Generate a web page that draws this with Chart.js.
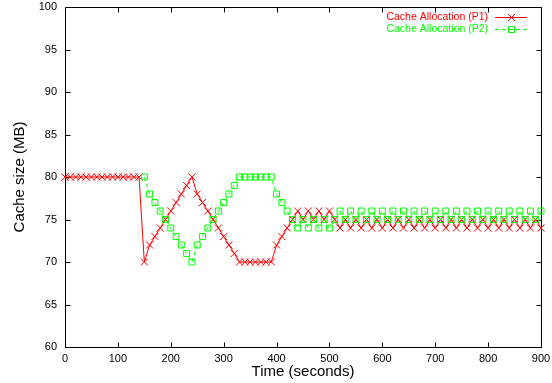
<!DOCTYPE html>
<html>
<head>
<meta charset="utf-8">
<script src="https://cdn.jsdelivr.net/npm/chart.js@4/dist/chart.umd.min.js"></script>
<style>
html,body{margin:0;padding:0;background:#fff;}
#wrap{width:552px;height:383px;position:relative;}
</style>
</head>
<body>
<div id="wrap"><canvas id="c"></canvas></div>
<script>
const times = [0,10,20,30,40,50,60,70,80,90,100,110,120,130,140,150,160,170,180,190,200,210,220,230,240,250,260,270,280,290,300,310,320,330,340,350,360,370,380,390,400,410,420,430,440,450,460,470,480,490,500,510,520,530,540,550,560,570,580,590,600,610,620,630,640,650,660,670,680,690,700,710,720,730,740,750,760,770,780,790,800,810,820,830,840,850,860,870,880,890,900];
const p1 = [80,80,80,80,80,80,80,80,80,80,80,80,80,80,80,
  70,72,73,74,75,76,77,78,79,80,
  78,77,76,75,74,73,72,71,70,
  70,70,70,70,70,70,
  72,73,74,75,
  76,75,76,75,76,75,76,75,
  74,75,74,75,74,75,74,75,74,75,74,75,74,75,74,75,74,75,74,75,74,75,74,75,74,75,74,75,74,75,74,75,74,75,74,75,74,75,74];
const p2 = [null,null,null,null,null,null,null,null,null,null,null,null,null,null,null,
  80,78,77,76,75,74,73,72,71,70,
  72,73,74,75,76,77,78,79,80,
  80,80,80,80,80,80,
  78,77,76,75,
  74,75,74,75,74,75,74,75,
  76,75,76,75,76,75,76,75,76,75,76,75,76,75,76,75,76,75,76,75,76,75,76,75,76,75,76,75,76,75,76,75,76,75,76,75,76,75,76];
const xTicks = [0,100,200,300,400,500,600,700,800,900];
const yTicks = [60,65,70,75,80,85,90,95,100];
const seriesNames = ['Cache Allocation (P1)','Cache Allocation (P2)'];

const RED = '#ff0000', GREEN = '#00ff00';
const FONT = "'Liberation Sans', Arial, Helvetica, sans-serif";

const framePlugin = {
  id: 'frame',
  beforeDatasetsDraw(chart) {
    const {ctx, chartArea: a, scales: {x, y}} = chart;
    ctx.save();
    ctx.strokeStyle = '#000';
    ctx.lineWidth = 1;
    ctx.beginPath();
    const L = Math.round(a.left)+0.5, R = Math.round(a.right)+0.5, T = Math.round(a.top)+0.5, B = Math.round(a.bottom)+0.5;
    ctx.rect(L, T, R-L, B-T);
    const tl = 5;
    xTicks.forEach(v => {
      const px = Math.round(x.getPixelForValue(v))+0.5;
      ctx.moveTo(px, B); ctx.lineTo(px, B-tl);
      ctx.moveTo(px, T); ctx.lineTo(px, T+tl);
    });
    yTicks.forEach(v => {
      const py = Math.round(y.getPixelForValue(v))+0.5;
      ctx.moveTo(L, py); ctx.lineTo(L+tl, py);
      ctx.moveTo(R, py); ctx.lineTo(R-tl, py);
    });
    ctx.stroke();
    ctx.restore();
  },
  afterDraw(chart) {
    const {ctx} = chart;
    ctx.save();
    ctx.font = '10.5px ' + FONT;
    ctx.textAlign = 'right';
    ctx.textBaseline = 'middle';
    const rows = [
      {name: seriesNames[0], color: RED, y: 17.5, dash: []},
      {name: seriesNames[1], color: GREEN, y: 29.5, dash: [4,3]}
    ];
    rows.forEach((r, i) => {
      ctx.fillStyle = r.color;
      ctx.fillText(r.name, 488, r.y);
      ctx.strokeStyle = r.color;
      ctx.lineWidth = 1;
      ctx.setLineDash(r.dash);
      ctx.beginPath();
      ctx.moveTo(495, r.y); ctx.lineTo(527, r.y);
      ctx.stroke();
      ctx.setLineDash([]);
      ctx.beginPath();
      const cx = 511.5, cy = r.y;
      if (i === 0) {
        const d = 3.5;
        ctx.moveTo(cx-d, cy-d); ctx.lineTo(cx+d, cy+d);
        ctx.moveTo(cx-d, cy+d); ctx.lineTo(cx+d, cy-d);
      } else {
        ctx.rect(cx-3, cy-3, 6, 6);
      }
      ctx.stroke();
    });
    ctx.restore();
  }
};

new Chart(document.getElementById('c'), {
  type: 'line',
  data: {
    datasets: [
      {
        label: seriesNames[0],
        data: times.map((t, i) => ({x: t, y: p1[i]})),
        borderColor: RED,
        borderWidth: 1,
        pointStyle: 'crossRot',
        pointRadius: 5,
        pointBorderWidth: 1,
        pointBorderColor: RED,
        pointBackgroundColor: 'rgba(0,0,0,0)',
        fill: false,
        tension: 0,
        clip: false,
        order: 1
      },
      {
        label: seriesNames[1],
        data: times.map((t, i) => ({x: t, y: p2[i]})),
        borderColor: GREEN,
        borderWidth: 1,
        borderDash: [4,3],
        pointStyle: 'rect',
        pointRadius: 4.2,
        pointBorderWidth: 1,
        pointBorderColor: GREEN,
        pointBackgroundColor: 'rgba(0,0,0,0)',
        fill: false,
        tension: 0,
        spanGaps: false,
        clip: false,
        order: 0
      }
    ]
  },
  options: {
    responsive: true,
    maintainAspectRatio: false,
    animation: false,
    devicePixelRatio: 1,
    layout: {padding: {top: 7, right: 11, left: 0, bottom: 0}},
    plugins: {legend: {display: false}, tooltip: {enabled: false}},
    scales: {
      x: {
        type: 'linear',
        min: xTicks[0], max: xTicks[xTicks.length-1],
        grid: {display: false, drawTicks: false},
        border: {display: false},
        ticks: {
          stepSize: 100, padding: 5, color: '#000', maxRotation: 0,
          font: {family: FONT, size: 11}
        },
        title: {display: true, text: 'Time (seconds)', color: '#000',
          font: {family: FONT, size: 15}, padding: {top: 0, bottom: 2}},
        afterFit(s) { s.height = 36; s.paddingLeft = 0; s.paddingRight = 0; s.paddingTop = 0; s.paddingBottom = 0; }
      },
      y: {
        type: 'linear',
        min: yTicks[0], max: yTicks[yTicks.length-1],
        grid: {display: false, drawTicks: false},
        border: {display: false},
        ticks: {
          stepSize: 5, padding: 8, color: '#000',
          font: {family: FONT, size: 11}
        },
        title: {display: true, text: 'Cache size (MB)', color: '#000',
          font: {family: FONT, size: 15}, padding: {top: 11, bottom: 0}},
        afterFit(s) { s.width = 65; s.paddingLeft = 0; s.paddingRight = 0; s.paddingTop = 0; s.paddingBottom = 0; }
      }
    }
  },
  plugins: [framePlugin]
});
</script>
</body>
</html>
